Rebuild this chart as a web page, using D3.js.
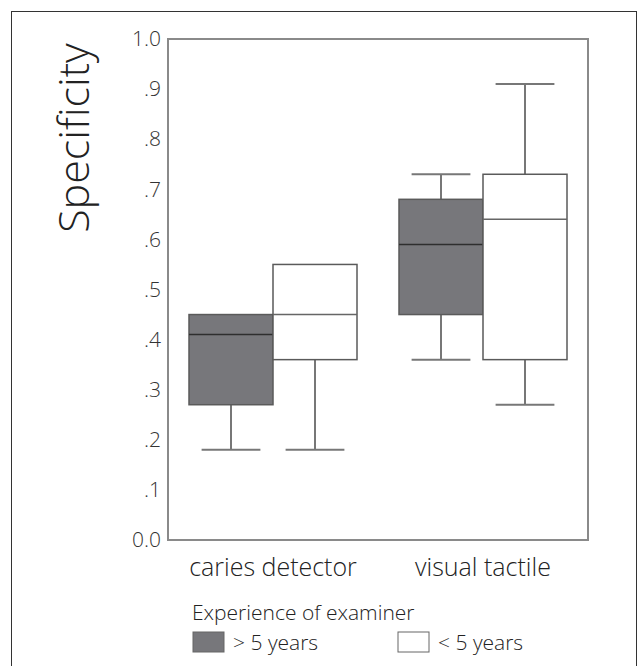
<!DOCTYPE html>
<html>
<head>
<meta charset="utf-8">
<script src="https://cdn.jsdelivr.net/npm/d3@7"></script>
<style>
  body { margin: 0; background: #fff; }
  svg { display: block; font-family: "Open Sans", Lato, sans-serif; font-weight: 300; }
</style>
</head>
<body>
<svg id="chart" width="641" height="666"></svg>
<script>
// methods on the x axis, examiner groups inside each method
const methods = ['caries detector', 'visual tactile'];
const groups = ['> 5 years', '< 5 years'];
const groupFill = ['#77777b', '#ffffff'];
const yTicks = [0, 0.1, 0.2, 0.3, 0.4, 0.5, 0.6, 0.7, 0.8, 0.9, 1.0];

// five-number summaries
const caries = [
  { group: '> 5 years', min: 0.18, q1: 0.27, median: 0.41, q3: 0.45, max: 0.45 },
  { group: '< 5 years', min: 0.18, q1: 0.36, median: 0.45, q3: 0.55, max: 0.55 }
];
const visual = [
  { group: '> 5 years', min: 0.36, q1: 0.45, median: 0.59, q3: 0.68, max: 0.73 },
  { group: '< 5 years', min: 0.27, q1: 0.36, median: 0.64, q3: 0.73, max: 0.91 }
];

const svg = d3.select('#chart');
const plot = { left: 168, right: 588, top: 39, bottom: 540 };

// outer frame
svg.append('rect')
  .attr('x', 11.5).attr('y', 11.5)
  .attr('width', 625).attr('height', 680)
  .attr('fill', 'none').attr('stroke', '#333').attr('stroke-width', 1);

const x = d3.scaleBand().domain(methods).range([plot.left, plot.right]);
const xg = d3.scaleBand().domain(groups).range([0, x.bandwidth()]).paddingOuter(0.25);
const y = d3.scaleLinear().domain([0, 1]).range([plot.bottom, plot.top]);
const color = d3.scaleOrdinal().domain(groups).range(groupFill);

// plot frame
svg.append('rect')
  .attr('x', plot.left).attr('y', plot.top)
  .attr('width', plot.right - plot.left).attr('height', plot.bottom - plot.top)
  .attr('fill', 'none').attr('stroke', '#8a8a8a').attr('stroke-width', 2);

// y axis labels only
const yAxis = d3.axisLeft(y)
  .tickValues(yTicks)
  .tickSize(0)
  .tickPadding(7)
  .tickFormat(d => d === 0 ? '0.0' : d === 1 ? '1.0' : d3.format('.1f')(d).replace(/^0/, ''));
const ya = svg.append('g').attr('transform', `translate(${plot.left},0)`).call(yAxis);
ya.select('.domain').remove();
ya.selectAll('text')
  .style('font-size', '21px')
  .style('font-family', '"Open Sans", Lato, sans-serif')
  .style('font-weight', 300)
  .attr('fill', '#333');

// x labels
svg.append('g').selectAll('text')
  .data(methods)
  .join('text')
  .attr('x', d => x(d) + x.bandwidth() / 2)
  .attr('y', 576)
  .attr('text-anchor', 'middle')
  .style('font-size', '25px')
  .attr('fill', '#222')
  .text(d => d);

// y title
svg.append('text')
  .attr('transform', 'translate(89,138) rotate(-90)')
  .attr('text-anchor', 'middle')
  .style('font-size', '43px')
  .attr('fill', '#222')
  .text('Specificity');

// boxes
const series = [caries, visual];
series.forEach((boxes, i) => {
  const g = svg.append('g').attr('transform', `translate(${x(methods[i])},0)`);
  const bw = xg.bandwidth();
  const cap = bw * 0.7;

  const b = g.selectAll('g.box').data(boxes).join('g').attr('class', 'box')
    .attr('transform', d => `translate(${xg(d.group)},0)`);

  // whiskers
  b.append('line')
    .attr('x1', bw / 2).attr('x2', bw / 2)
    .attr('y1', d => y(d.max)).attr('y2', d => y(d.q3))
    .attr('stroke', '#777').attr('stroke-width', 2);
  b.append('line')
    .attr('x1', bw / 2).attr('x2', bw / 2)
    .attr('y1', d => y(d.q1)).attr('y2', d => y(d.min))
    .attr('stroke', '#777').attr('stroke-width', 2);
  b.filter(d => d.max > d.q3).append('line')
    .attr('x1', (bw - cap) / 2).attr('x2', (bw + cap) / 2)
    .attr('y1', d => y(d.max)).attr('y2', d => y(d.max))
    .attr('stroke', '#777').attr('stroke-width', 2);
  b.filter(d => d.min < d.q1).append('line')
    .attr('x1', (bw - cap) / 2).attr('x2', (bw + cap) / 2)
    .attr('y1', d => y(d.min)).attr('y2', d => y(d.min))
    .attr('stroke', '#777').attr('stroke-width', 2);

  b.append('rect')
    .attr('x', 0).attr('width', bw)
    .attr('y', d => y(d.q3)).attr('height', d => y(d.q1) - y(d.q3))
    .attr('fill', d => color(d.group))
    .attr('stroke', '#5a5a5a').attr('stroke-width', 1.5);

  b.append('line')
    .attr('x1', 0).attr('x2', bw)
    .attr('y1', d => y(d.median)).attr('y2', d => y(d.median))
    .attr('stroke', d => d.group === groups[0] ? '#2e2e2e' : '#666')
    .attr('stroke-width', 1.5);
});

// legend
svg.append('text')
  .attr('x', 192).attr('y', 620)
  .style('font-size', '21px')
  .attr('fill', '#222')
  .text('Experience of examiner');

const lx = d3.scalePoint().domain(groups).range([193, 398]);
const leg = svg.append('g').selectAll('g').data(groups).join('g')
  .attr('transform', d => `translate(${lx(d)},632)`);
leg.append('rect')
  .attr('width', 31).attr('height', 20)
  .attr('fill', d => color(d))
  .attr('stroke', '#666').attr('stroke-width', 1);
leg.append('text')
  .attr('x', 40).attr('y', 18)
  .style('font-size', '21px')
  .attr('fill', '#222')
  .text(d => d);
</script>
</body>
</html>
